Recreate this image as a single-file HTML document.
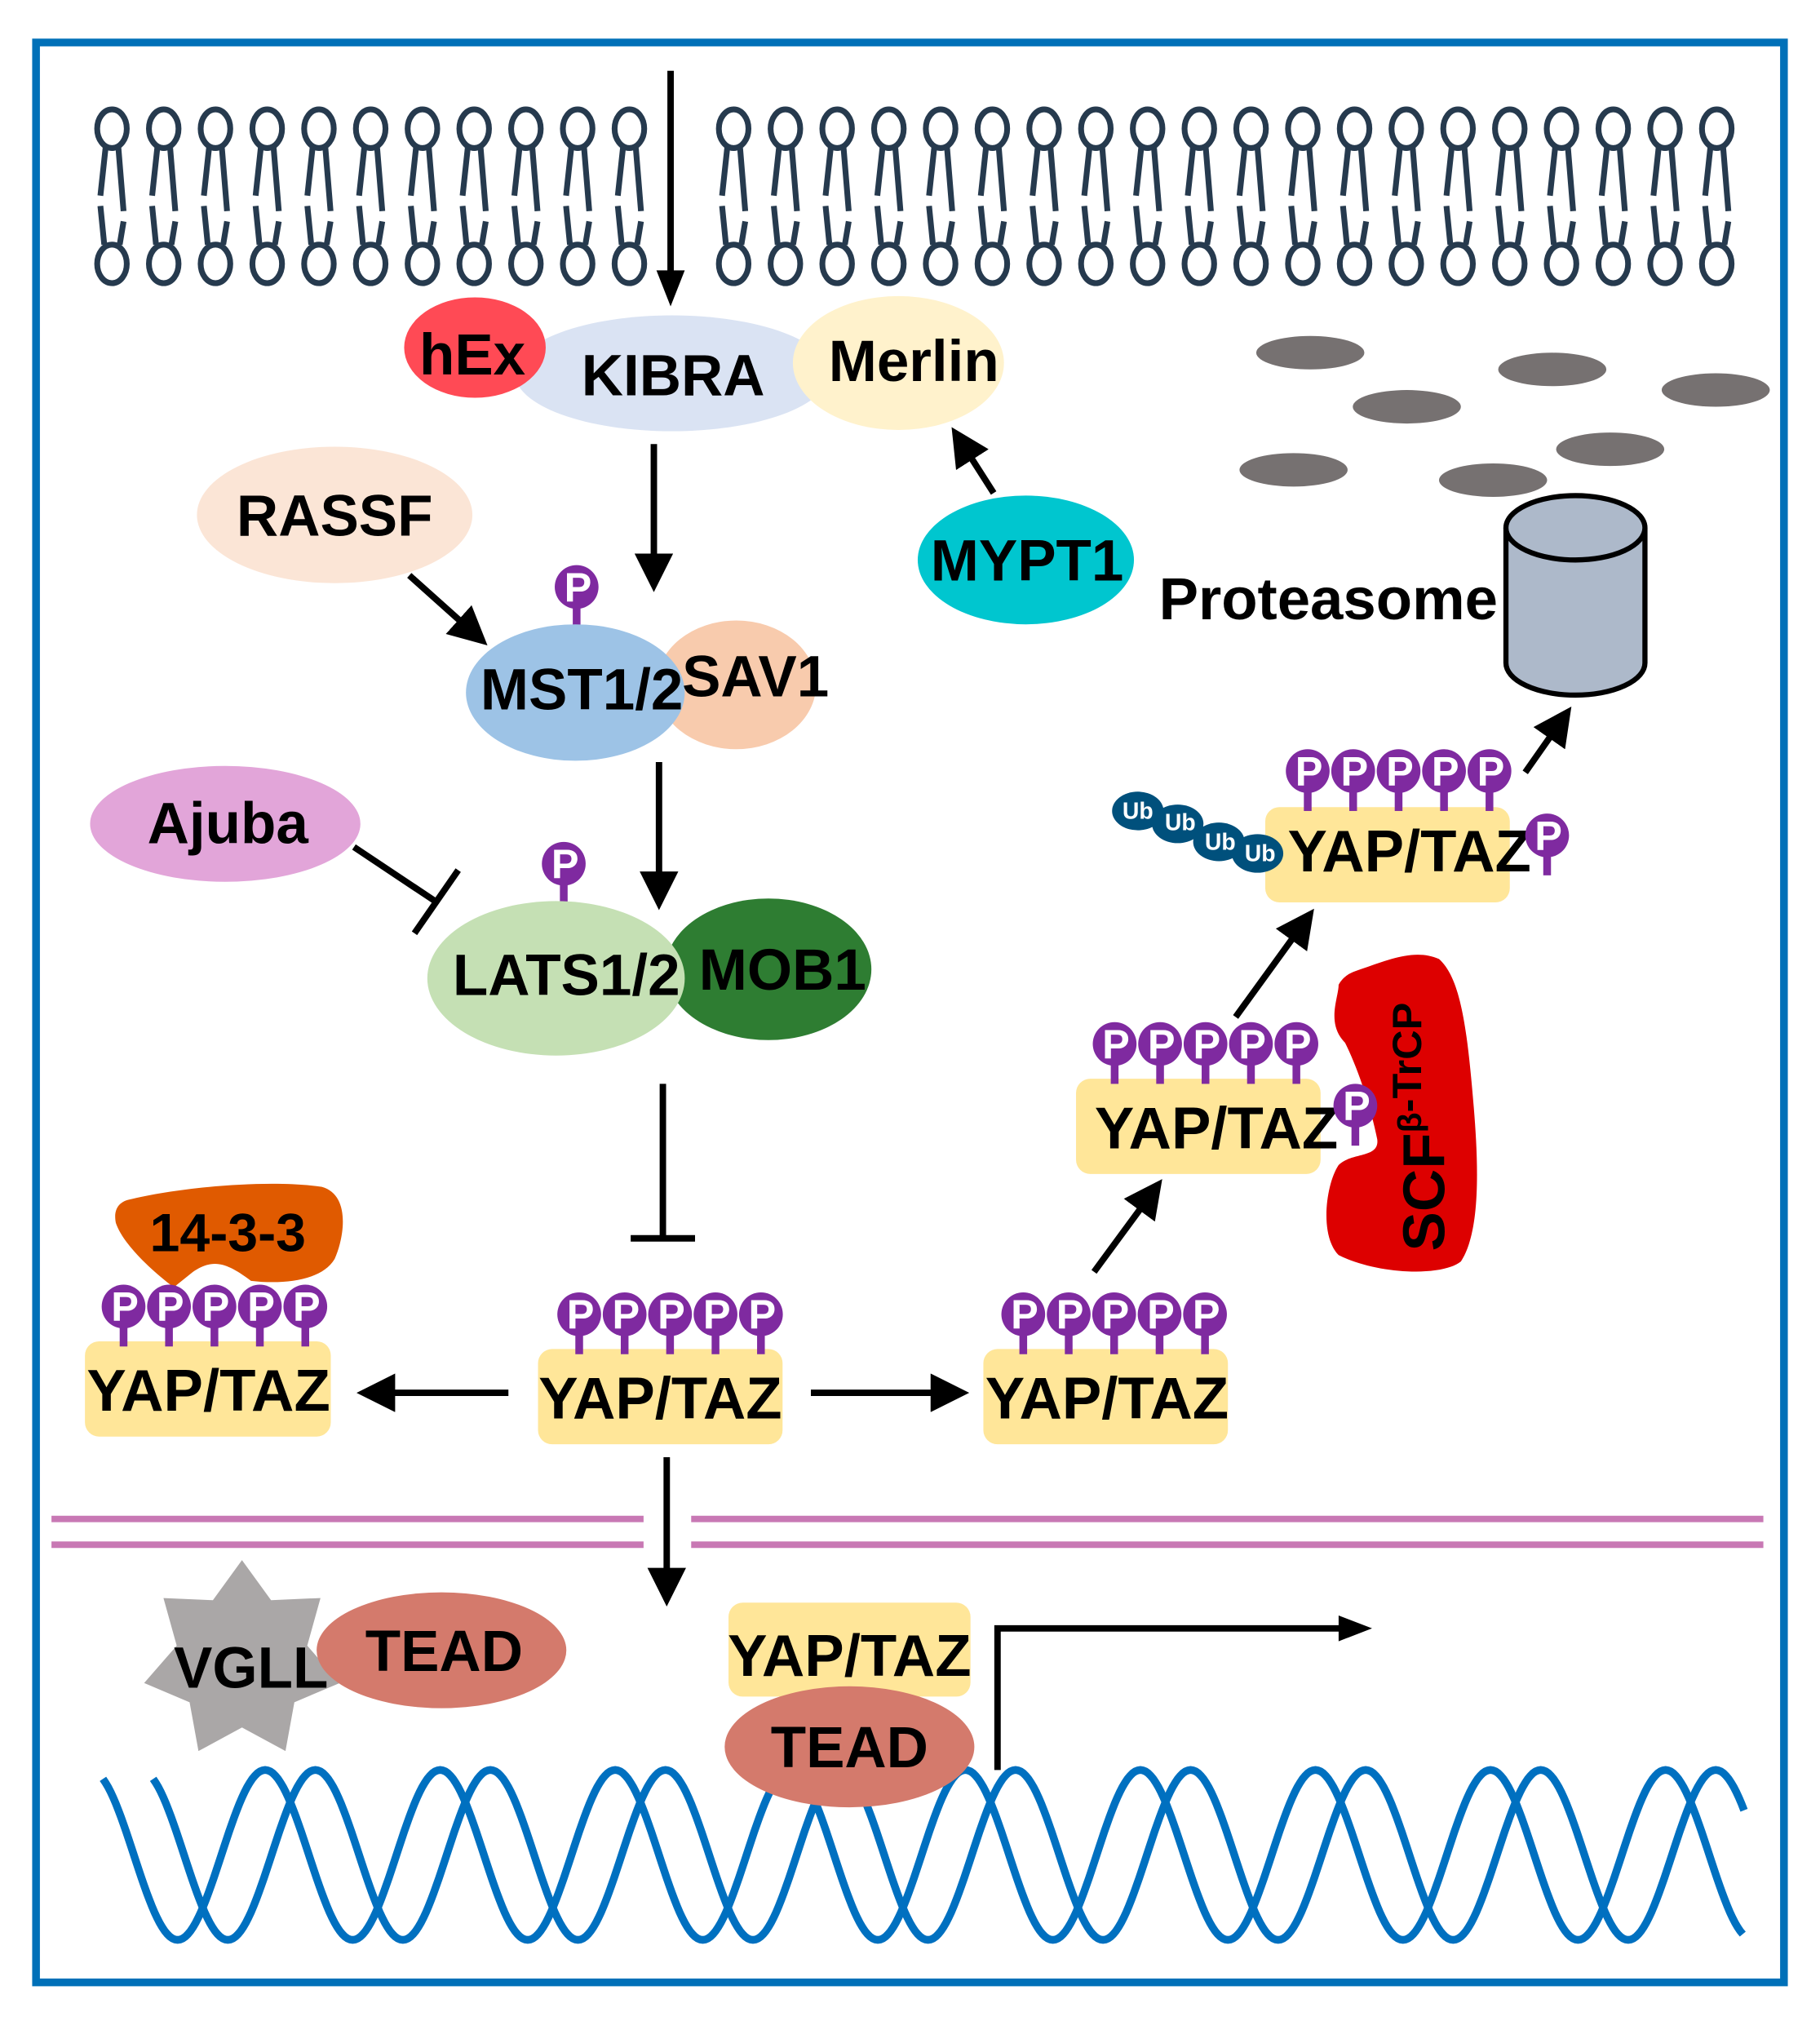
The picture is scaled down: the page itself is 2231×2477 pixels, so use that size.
<!DOCTYPE html>
<html><head><meta charset="utf-8"><style>
html,body{margin:0;padding:0;background:#fff}
svg{display:block}
text{font-family:"Liberation Sans",Arial,sans-serif;font-weight:bold}
</style></head><body>
<svg id="s" width="2231" height="2477" viewBox="0 0 1414 1570" preserveAspectRatio="none" xmlns="http://www.w3.org/2000/svg">
<defs>
<marker id="ah" markerWidth="6" markerHeight="6" refX="5" refY="3" orient="auto" markerUnits="strokeWidth">
<path d="M0,0 L6,3 L0,6 Z" fill="#000"/></marker>
<g id="lip" fill="none" stroke="#263a4e" stroke-width="4.5">
<ellipse cx="0" cy="100" rx="11.5" ry="15"/>
<path d="M-5,115 L-9,152 M5,115 L9,164 M-9,160 L-6,190 M9,172 L6,190"/>
<ellipse cx="0" cy="205" rx="11.5" ry="15"/>
</g>
<g id="P">
<rect x="-3" y="0" width="6" height="28" fill="#7f2aa0"/>
<circle cx="0" cy="-3" r="17" fill="#7f2aa0"/>
<text x="1" y="8" font-size="32" fill="#fff" text-anchor="middle">P</text>
</g>
</defs>
<rect x="28" y="33" width="1358" height="1507" fill="#fff" stroke="#0070b8" stroke-width="6"/>
<g id="lipids"></g>
<line x1="521" y1="55" x2="521" y2="215" stroke="#000" stroke-width="5"/>
<path d="M510,210 L532,210 L521,238 Z"/>
<g fill="#767171">
<ellipse cx="1018" cy="274" rx="42" ry="13"/><ellipse cx="1206" cy="287" rx="42" ry="13"/>
<ellipse cx="1093" cy="316" rx="42" ry="13"/><ellipse cx="1333" cy="303" rx="42" ry="13"/>
<ellipse cx="1251" cy="349" rx="42" ry="13"/><ellipse cx="1005" cy="365" rx="42" ry="13"/>
<ellipse cx="1160" cy="373" rx="42" ry="13"/>
</g>
<path d="M1170,410 L1170,515 A54,25 0 0 0 1278,515 L1278,410" fill="#adb9ca" stroke="#000" stroke-width="4"/>
<ellipse cx="1224" cy="410" rx="54" ry="25" fill="#adb9ca" stroke="#000" stroke-width="4"/>
<text x="1032" y="481" font-size="46" text-anchor="middle">Proteasome</text>
<ellipse cx="522" cy="290" rx="122" ry="45" fill="#dae3f3"/>
<ellipse cx="698" cy="282" rx="82" ry="52" fill="#fff2cc"/>
<ellipse cx="369" cy="270" rx="55" ry="39" fill="#ff4a55"/>
<text x="367" y="291" font-size="45" text-anchor="middle">hEx</text>
<text x="523" y="307" font-size="45" text-anchor="middle">KIBRA</text>
<text x="710" y="296" font-size="45" text-anchor="middle">Merlin</text>
<g stroke="#000" stroke-width="5" marker-end="url(#ah)">
<line x1="508" y1="345" x2="508" y2="455"/>
<line x1="318" y1="447" x2="375" y2="498"/>
<line x1="772" y1="383" x2="742" y2="336"/>
<line x1="512" y1="592" x2="512" y2="702"/>
<line x1="395" y1="1082" x2="282" y2="1082"/>
<line x1="630" y1="1082" x2="748" y2="1082"/>
<line x1="850" y1="988" x2="900" y2="920"/>
<line x1="960" y1="790" x2="1018" y2="710"/>
<line x1="1185" y1="600" x2="1218" y2="553"/>
<line x1="518" y1="1132" x2="518" y2="1243"/>
</g>
<ellipse cx="260" cy="400" rx="107" ry="53" fill="#fbe5d6"/>
<text x="260" y="416" font-size="45" text-anchor="middle">RASSF</text>
<ellipse cx="797" cy="435" rx="84" ry="50" fill="#00c6cf"/>
<text x="798" y="451" font-size="45" text-anchor="middle">MYPT1</text>
<use href="#P" x="448" y="459"/>
<ellipse cx="572" cy="532" rx="62" ry="50" fill="#f8cbad"/>
<ellipse cx="447" cy="538" rx="85" ry="53" fill="#9dc3e6"/>
<text x="452" y="551" font-size="45" text-anchor="middle">MST1/2</text>
<text x="587" y="541" font-size="45" text-anchor="middle">SAV1</text>
<ellipse cx="175" cy="640" rx="105" ry="45" fill="#e2a5d9"/>
<text x="177" y="655" font-size="45" text-anchor="middle">Ajuba</text>
<line x1="275" y1="658" x2="338" y2="700" stroke="#000" stroke-width="5"/>
<line x1="322" y1="725" x2="356" y2="676" stroke="#000" stroke-width="5"/>
<use href="#P" x="438" y="674"/>
<ellipse cx="597" cy="753" rx="80" ry="55" fill="#2e7d32"/>
<ellipse cx="432" cy="760" rx="100" ry="60" fill="#c5e0b4"/>
<text x="440" y="773" font-size="45" text-anchor="middle">LATS1/2</text>
<text x="608" y="769" font-size="45" text-anchor="middle">MOB1</text>
<line x1="515" y1="842" x2="515" y2="962" stroke="#000" stroke-width="5"/>
<line x1="490" y1="962" x2="540" y2="962" stroke="#000" stroke-width="5"/>
<path d="M100,932 C140,922 210,916 250,922 C272,928 268,960 260,978 C250,995 220,998 195,995 C175,980 165,978 150,988 L135,1000 C115,985 95,965 90,950 C88,940 92,934 100,932 Z" fill="#e05a00"/>
<text x="177" y="972" font-size="42" text-anchor="middle">14-3-3</text>
<path d="M1060,752 C1080,745 1100,737 1118,745 C1135,760 1140,800 1145,860 C1150,920 1148,960 1135,980 C1120,992 1070,990 1040,975 C1025,960 1030,920 1040,905 C1050,895 1072,900 1070,885 C1065,860 1055,830 1045,810 C1030,795 1040,775 1040,765 C1045,756 1052,755 1060,752 Z" fill="#dd0000"/>
<text transform="translate(1122,972) rotate(-90)" font-size="46">SCF<tspan font-size="26" dy="-18">β</tspan><tspan font-size="32" dy="0">-TrCP</tspan></text>
<g fill="#ffe699">
<rect x="66" y="1042" width="191" height="74" rx="11"/>
<rect x="418" y="1048" width="190" height="74" rx="11"/>
<rect x="764" y="1048" width="190" height="74" rx="11"/>
<rect x="836" y="838" width="190" height="74" rx="11"/>
<rect x="983" y="627" width="190" height="74" rx="11"/>
<rect x="566" y="1245" width="188" height="73" rx="11"/>
</g>
<g id="Ps"></g>
<g font-size="46" text-anchor="middle">
<text x="162" y="1096">YAP/TAZ</text>
<text x="513" y="1102">YAP/TAZ</text>
<text x="860" y="1102">YAP/TAZ</text>
<text x="945" y="892">YAP/TAZ</text>
<text x="1095" y="677">YAP/TAZ</text>
<text x="660" y="1302">YAP/TAZ</text>
</g>
<use href="#P" x="1053" y="862"/>
<use href="#P" x="1202" y="652"/>
<g fill="#00507c">
<ellipse cx="884" cy="630" rx="20" ry="15"/><ellipse cx="915" cy="640" rx="20" ry="15"/>
<ellipse cx="947" cy="654" rx="20" ry="15"/><ellipse cx="977" cy="663" rx="20" ry="15"/>
</g>
<g fill="#fff" font-size="18" text-anchor="middle">
<text x="884" y="636">Ub</text><text x="917" y="645">Ub</text><text x="948" y="660">Ub</text><text x="979" y="669">Ub</text>
</g>
<g stroke="#c878b4" stroke-width="5">
<line x1="40" y1="1180" x2="500" y2="1180"/><line x1="40" y1="1200" x2="500" y2="1200"/>
<line x1="537" y1="1180" x2="1370" y2="1180"/><line x1="537" y1="1200" x2="1370" y2="1200"/>
</g>
<path id="w1" fill="none" stroke="#0070c0" stroke-width="6"/>
<path id="w2" fill="none" stroke="#0070c0" stroke-width="6"/>
<polygon id="star" fill="#aaa7a7"/>
<ellipse cx="343" cy="1282" rx="97" ry="45" fill="#d47a6c"/>
<text x="195" y="1311" font-size="45" text-anchor="middle">VGLL</text>
<text x="345" y="1298" font-size="45" text-anchor="middle">TEAD</text>
<ellipse cx="660" cy="1357" rx="97" ry="47" fill="#d47a6c"/>
<text x="660" y="1373" font-size="45" text-anchor="middle">TEAD</text>
<path d="M775,1375 L775,1265 L1045,1265" fill="none" stroke="#000" stroke-width="5"/>
<path d="M1040,1255 L1066,1265 L1040,1275 Z"/>
</svg>
<script>
var NS="http://www.w3.org/2000/svg";
var lg=document.getElementById("lipids");
function use(par,id,x,y){var u=document.createElementNS(NS,"use");u.setAttribute("href","#"+id);u.setAttribute("x",x);u.setAttribute("y",y);par.appendChild(u);}
for(var i=0;i<11;i++)use(lg,"lip",87+i*40.2,0);
for(var i=0;i<20;i++)use(lg,"lip",570+i*40.2,0);
var pg=document.getElementById("Ps");
[[96,1018],[450,1024],[795,1024],[866,814],[1016,602]].forEach(function(a){for(var k=0;k<5;k++)use(pg,"P",a[0]+k*35.3,a[1]);});
function wave(id,x0,x1,pk){var d="";for(var x=x0;x<=x1;x+=2){var y=1441-66*Math.cos(2*Math.PI*(x-pk)/136);d+=(x==x0?"M":"L")+x+","+y.toFixed(1);}document.getElementById(id).setAttribute("d",d);}
wave("w1",80,1355,206);wave("w2",119,1355,245);
var pts=[],cx=188,cy=1290;for(var i=0;i<14;i++){var r=i%2?52:78;var a=-Math.PI/2+i*Math.PI/7;pts.push((cx+r*Math.cos(a)).toFixed(1)+","+(cy+r*Math.sin(a)).toFixed(1));}
document.getElementById("star").setAttribute("points",pts.join(" "));
</script>
</body></html>
